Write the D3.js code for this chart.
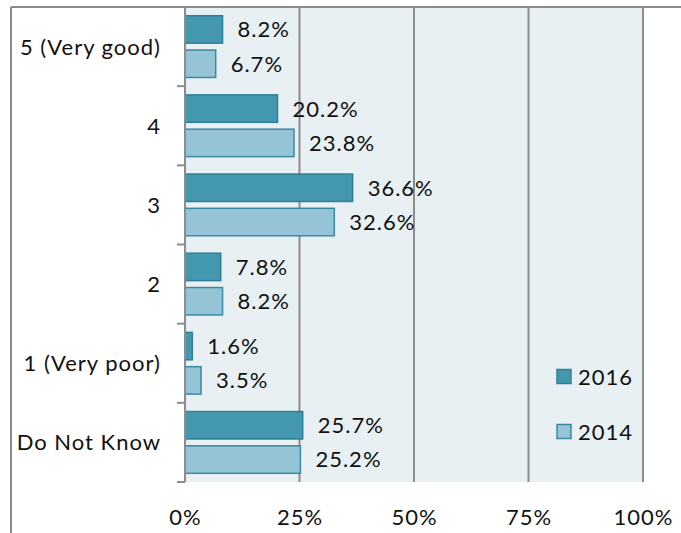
<!DOCTYPE html>
<html>
<head>
<meta charset="utf-8">
<script src="https://cdn.jsdelivr.net/npm/d3@7"></script>
<style>
  html, body { margin: 0; padding: 0; background: #fff; }
  svg { display: block; font-family: Lato, "Open Sans", sans-serif; }
  svg text { letter-spacing: 1px; }
</style>
</head>
<body>
<svg id="chart" width="681" height="533"></svg>
<script>
// Ratings, top to bottom
const categories = ["5 (Very good)", "4", "3", "2", "1 (Very poor)", "Do Not Know"];
const seriesNames = ["2016", "2014"];
const values2016 = [8.2, 20.2, 36.6, 7.8, 1.6, 25.7];
const values2014 = [6.7, 23.8, 32.6, 8.2, 3.5, 25.2];
const xTicks = [0, 25, 50, 75, 100];

const fills = { "2016": "#4398b0", "2014": "#94c4d6" };
const strokes = { "2016": "#2f7f96", "2014": "#3a8aa3" };

const svg = d3.select("#chart");
const W = 681, H = 533;
const plot = { left: 185, right: 643, top: 7, bottom: 482 };
const FONT = 22;

const x = d3.scaleLinear().domain([0, 100]).range([plot.left, plot.right]);
const y0 = d3.scaleBand().domain(categories).range([plot.top, plot.bottom])
  .paddingInner(0.22).paddingOuter(0.11);
const y1 = d3.scaleBand().domain(seriesNames).range([0, y0.bandwidth()]).paddingInner(0.2);

const rows = categories.map((c, i) => ({ cat: c, "2016": values2016[i], "2014": values2014[i] }));

// outer chart frame (runs off the right and bottom edges)
svg.append("line").attr("x1", 11).attr("x2", W + 5).attr("y1", 7).attr("y2", 7)
  .attr("stroke", "#8a8a8a").attr("stroke-width", 2);
svg.append("line").attr("x1", 11).attr("x2", 11).attr("y1", 7).attr("y2", H + 5)
  .attr("stroke", "#8a8a8a").attr("stroke-width", 2);

// plot background
svg.append("rect").attr("x", plot.left).attr("y", plot.top + 1)
  .attr("width", plot.right - plot.left).attr("height", plot.bottom - plot.top - 1)
  .attr("fill", "#e8f0f4");

// vertical gridlines
svg.append("g").selectAll("line").data(xTicks.slice(1)).join("line")
  .attr("x1", d => x(d)).attr("x2", d => x(d))
  .attr("y1", plot.top).attr("y2", plot.bottom)
  .attr("stroke", "#8c8c8c").attr("stroke-width", 2);

// bars
const groups = svg.append("g").selectAll("g").data(rows).join("g")
  .attr("transform", d => `translate(0,${y0(d.cat)})`);

groups.selectAll("rect").data(d => seriesNames.map(s => ({ s, v: d[s] }))).join("rect")
  .attr("x", x(0))
  .attr("y", d => y1(d.s))
  .attr("width", d => x(d.v) - x(0))
  .attr("height", y1.bandwidth())
  .attr("fill", d => fills[d.s])
  .attr("stroke", d => strokes[d.s])
  .attr("stroke-width", 1.5);

// value labels
groups.selectAll("text").data(d => seriesNames.map(s => ({ s, v: d[s] }))).join("text")
  .attr("x", d => x(d.v) + 15)
  .attr("y", d => y1(d.s) + y1.bandwidth() / 2)
  .attr("dy", "0.36em")
  .attr("font-size", FONT)
  .attr("fill", "#111")
  .text(d => d.v.toFixed(1) + "%");

// category axis (ticks at band boundaries)
const yAxisG = svg.append("g");
yAxisG.append("line").attr("x1", plot.left).attr("x2", plot.left)
  .attr("y1", plot.top).attr("y2", plot.bottom)
  .attr("stroke", "#8c8c8c").attr("stroke-width", 2);
const boundaries = categories.map(c => y0(c) - y0.step() * y0.paddingInner() / 2);
boundaries.push(plot.bottom);
yAxisG.selectAll("line.tick").data(boundaries.slice(1)).join("line").attr("class", "tick")
  .attr("x1", plot.left - 8).attr("x2", plot.left)
  .attr("y1", d => d).attr("y2", d => d)
  .attr("stroke", "#8c8c8c").attr("stroke-width", 2);
yAxisG.selectAll("text").data(categories).join("text")
  .attr("x", 161)
  .attr("y", d => y0(d) + y0.bandwidth() / 2)
  .attr("dy", "0.36em")
  .attr("text-anchor", "end")
  .attr("font-size", FONT)
  .attr("fill", "#111")
  .text(d => d);

// value axis labels
const xAxis = d3.axisBottom(x).tickValues(xTicks).tickFormat(d => d + "%").tickSize(0).tickPadding(0);
const xg = svg.append("g").attr("transform", `translate(0,${plot.bottom})`).call(xAxis);
xg.select(".domain").remove();
xg.selectAll("text").attr("font-size", FONT).attr("font-family", "Lato, sans-serif")
  .attr("fill", "#111").attr("y", 43).attr("dy", "0");

// legend
const legend = svg.append("g").selectAll("g").data(seriesNames).join("g")
  .attr("transform", (d, i) => `translate(557,${377 + i * 55})`);
legend.append("rect").attr("x", 0).attr("y", -7.5).attr("width", 14).attr("height", 14)
  .attr("fill", d => fills[d]).attr("stroke", d => strokes[d]).attr("stroke-width", 1.5);
legend.append("text").attr("x", 21).attr("y", 0).attr("dy", "0.36em")
  .attr("font-size", FONT).attr("fill", "#111").text(d => d);
</script>
</body>
</html>
